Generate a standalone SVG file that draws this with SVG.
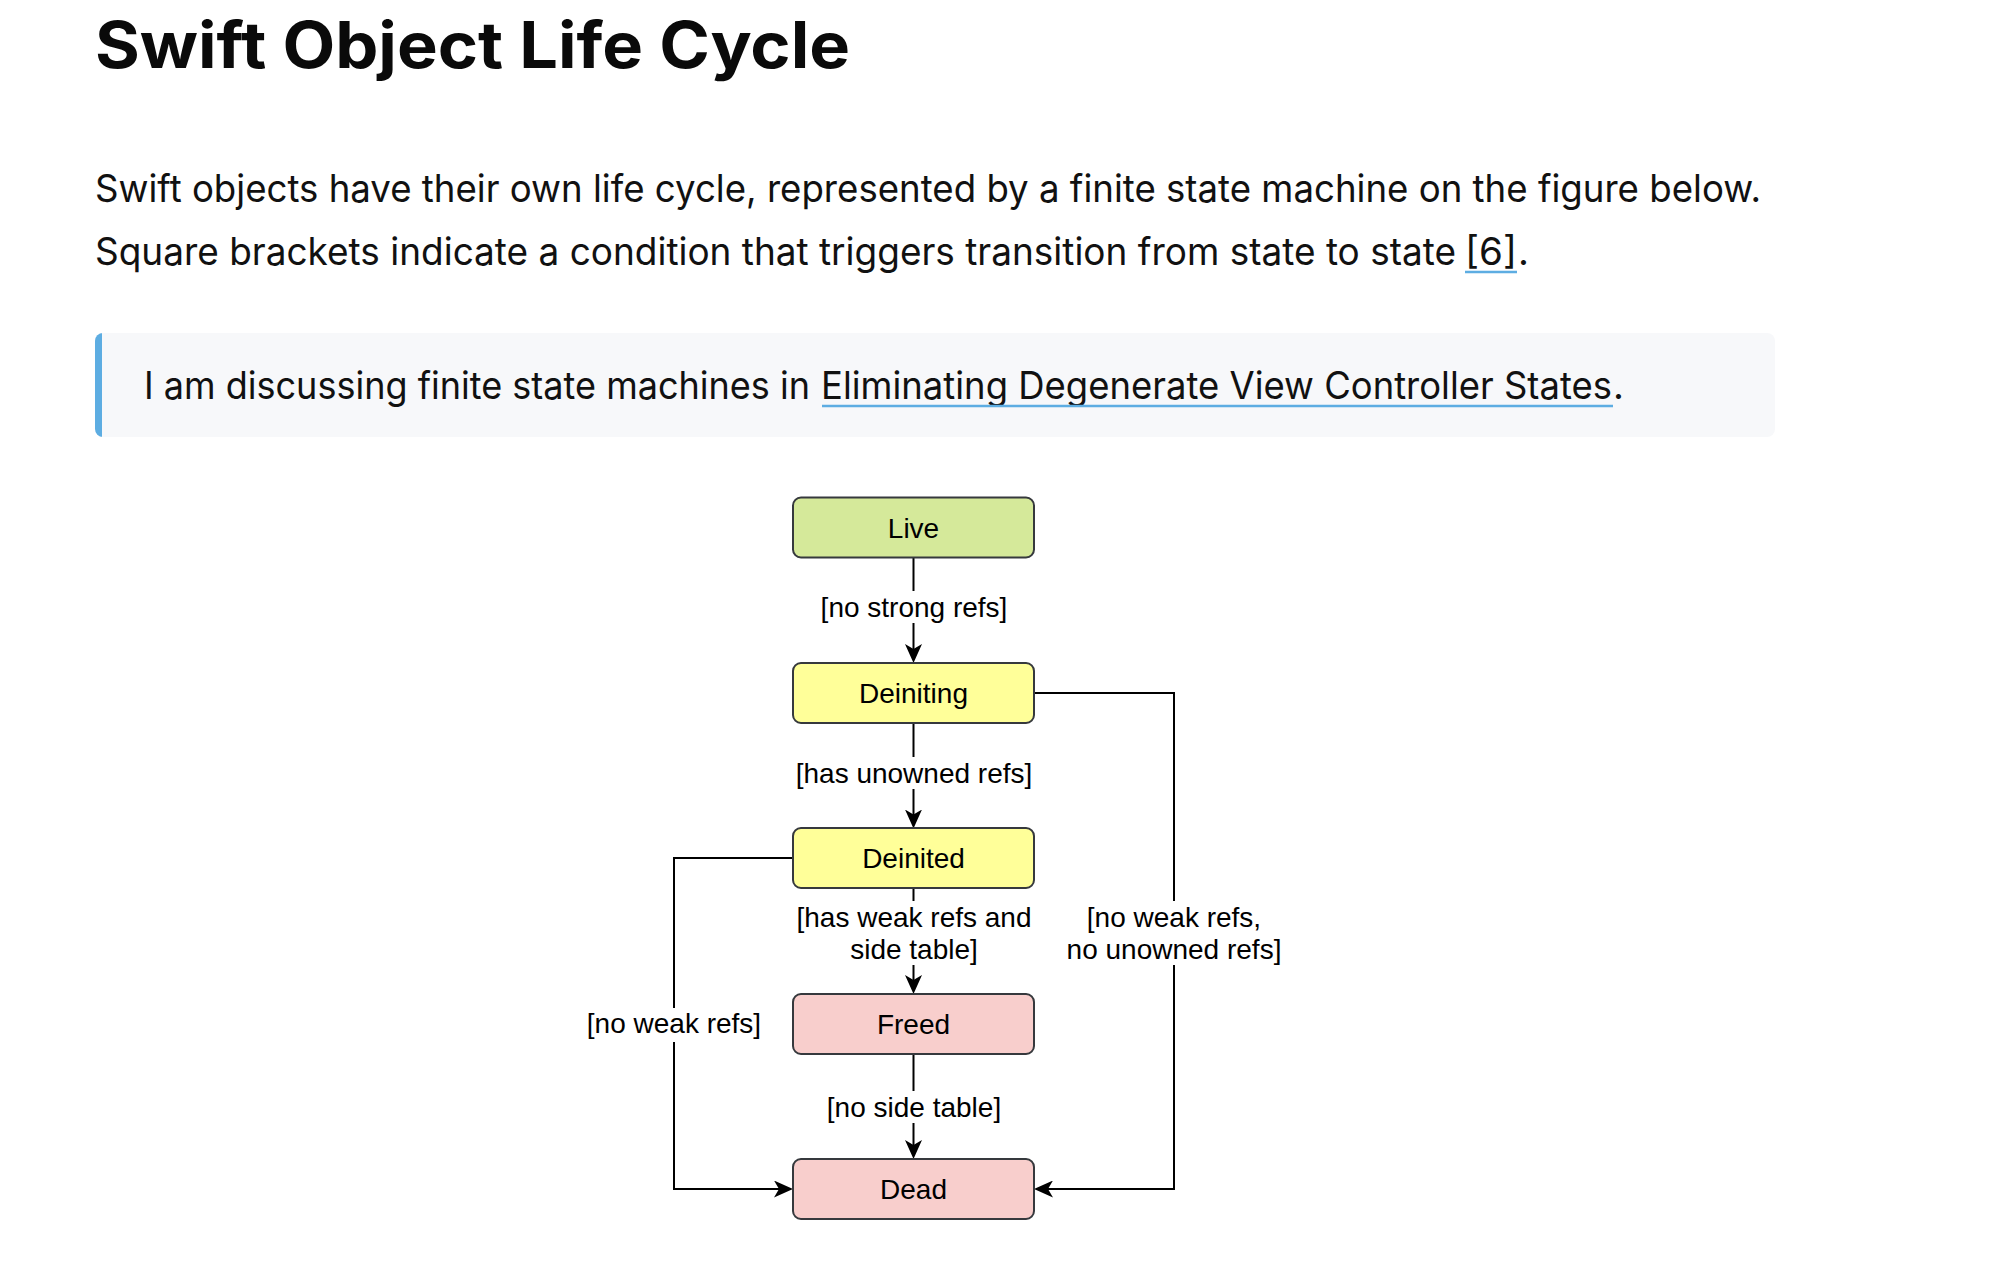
<svg xmlns="http://www.w3.org/2000/svg" width="2014" height="1284" viewBox="0 0 2014 1284">
<defs>
<style>
.pg{font-family:Inter,"Liberation Sans",sans-serif;fill:#111}
.title{font-weight:700;font-size:64px;fill:#0a0a0a}
.body{font-size:38px}
.node rect{stroke:#36393d;stroke-width:2}
.node text,.lbl{font-family:"Liberation Sans",Arial,sans-serif;font-size:28px;text-anchor:middle;fill:#000}
.edge{fill:none;stroke:#000;stroke-width:2}
.lblbg{fill:#fff}
.ul{stroke:#5dade2;stroke-width:2.5}
</style>
<marker id="arr" markerUnits="userSpaceOnUse" markerWidth="19" markerHeight="17" viewBox="0 0 19 17" refX="14" refY="8.5" orient="auto">
<path d="M0,0 L19,8.5 L0,17 L5,8.5 Z" fill="#000"/>
</marker>
<clipPath id="bqclip"><rect x="95" y="333" width="1680" height="104" rx="8"/></clipPath>
</defs>
<rect width="2014" height="1284" fill="#fff"/>

<text class="pg title" x="95" y="68" textLength="755" lengthAdjust="spacingAndGlyphs">Swift Object Life Cycle</text>

<text class="pg body" x="95" y="202" textLength="1666" lengthAdjust="spacingAndGlyphs">Swift objects have their own life cycle, represented by a finite state machine on the figure below.</text>
<text class="pg body" y="265"><tspan x="95" textLength="1361" lengthAdjust="spacingAndGlyphs">Square brackets indicate a condition that triggers transition from state to state</tspan><tspan x="1465" textLength="52" lengthAdjust="spacingAndGlyphs">[6]</tspan><tspan x="1518">.</tspan></text>
<line class="ul" x1="1465" y1="272" x2="1517" y2="272"/>

<g id="blockquote">
<rect x="95" y="333" width="1680" height="104" rx="8" fill="#f7f8fa"/>
<rect x="95" y="333" width="7" height="104" fill="#5dade2" clip-path="url(#bqclip)"/>
<text class="pg body" y="399"><tspan x="144" textLength="666" lengthAdjust="spacingAndGlyphs">I am discussing finite state machines in</tspan><tspan x="821" textLength="791" lengthAdjust="spacingAndGlyphs">Eliminating Degenerate View Controller States</tspan><tspan x="1613">.</tspan></text>
<line class="ul" x1="822" y1="406" x2="1613" y2="406"/>
</g>

<g id="connectors">
<path class="edge" d="M913.5,558 V658" marker-end="url(#arr)"/>
<rect class="lblbg" x="820" y="591" width="188" height="32"/>
<text class="lbl" x="914" y="617">[no strong refs]</text>

<path class="edge" d="M913.5,723 V823.5" marker-end="url(#arr)"/>
<rect class="lblbg" x="796" y="757" width="238" height="32"/>
<text class="lbl" x="914" y="783">[has unowned refs]</text>

<path class="edge" d="M913.5,888 V989" marker-end="url(#arr)"/>
<rect class="lblbg" x="790" y="901" width="248" height="64"/>
<text class="lbl" x="914" y="927">[has weak refs and</text>
<text class="lbl" x="914" y="959">side table]</text>

<path class="edge" d="M913.5,1054 V1154" marker-end="url(#arr)"/>
<rect class="lblbg" x="825" y="1091" width="178" height="32"/>
<text class="lbl" x="914" y="1117">[no side table]</text>

<path class="edge" d="M1034,693 H1174 V1189 H1039" marker-end="url(#arr)"/>
<rect class="lblbg" x="1066" y="901" width="216" height="64"/>
<text class="lbl" x="1174" y="927">[no weak refs,</text>
<text class="lbl" x="1174" y="959">no unowned refs]</text>

<path class="edge" d="M793,858 H674 V1189 H788" marker-end="url(#arr)"/>
<rect class="lblbg" x="586" y="1008" width="176" height="34"/>
<text class="lbl" x="674" y="1033">[no weak refs]</text>
</g>

<g id="live" class="node">
<rect x="793" y="497.5" width="241" height="60" rx="8" fill="#d5e99a"/>
<text x="913.5" y="537.5">Live</text>
</g>
<g id="deiniting" class="node">
<rect x="793" y="663" width="241" height="60" rx="8" fill="#ffff99"/>
<text x="913.5" y="703">Deiniting</text>
</g>
<g id="deinited" class="node">
<rect x="793" y="828" width="241" height="60" rx="8" fill="#ffff99"/>
<text x="913.5" y="868">Deinited</text>
</g>
<g id="freed" class="node">
<rect x="793" y="994" width="241" height="60" rx="8" fill="#f8cecc"/>
<text x="913.5" y="1034">Freed</text>
</g>
<g id="dead" class="node">
<rect x="793" y="1159" width="241" height="60" rx="8" fill="#f8cecc"/>
<text x="913.5" y="1199">Dead</text>
</g>
</svg>
